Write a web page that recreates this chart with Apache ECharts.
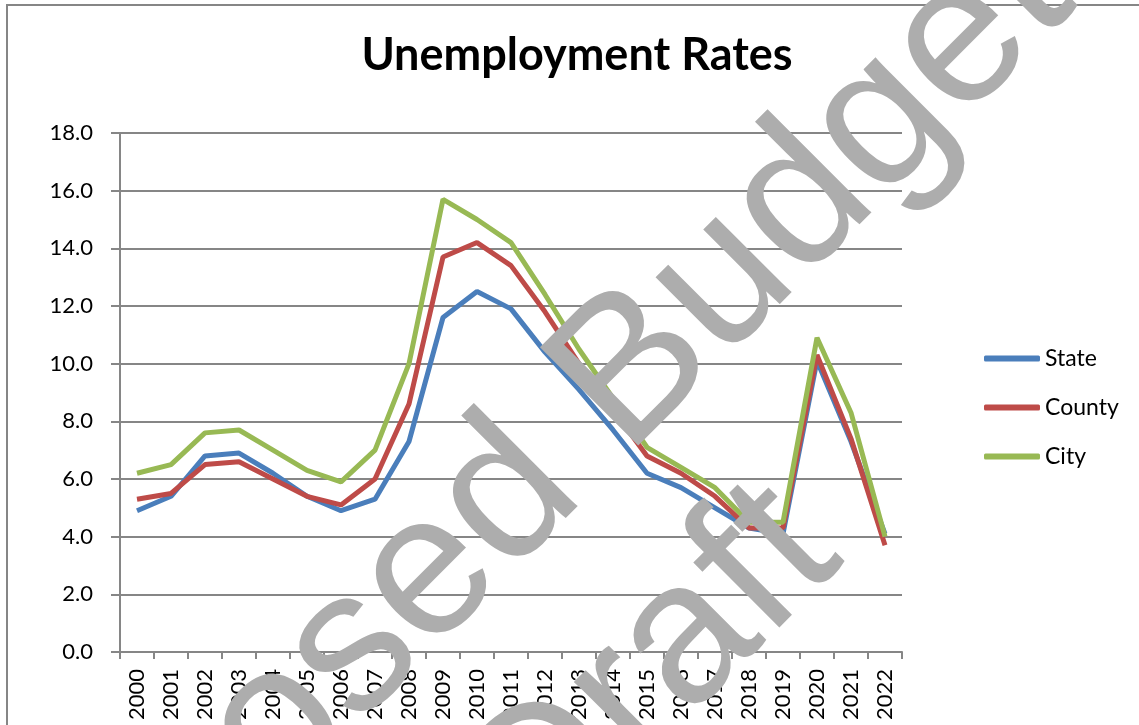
<!DOCTYPE html>
<html>
<head>
<meta charset="utf-8">
<title>Unemployment Rates</title>
<script src="https://cdn.jsdelivr.net/npm/echarts@6/dist/echarts.min.js"></script>
<style>
  html, body { margin: 0; padding: 0; background: #fff; }
  #chart { width: 1139px; height: 725px; }
</style>
</head>
<body>
<div id="chart"></div>
<script>
// values
const years = ['2000', '2001', '2002', '2003', '2004', '2005', '2006', '2007', '2008', '2009', '2010', '2011',
  '2012', '2013', '2014', '2015', '2016', '2017', '2018', '2019', '2020', '2021', '2022']
const stateRates = [4.9, 5.4, 6.8, 6.9, 6.2, 5.4, 4.9, 5.3, 7.3, 11.6, 12.5, 11.9,
  10.4, 9.1, 7.7, 6.2, 5.7, 5.0, 4.3, 4.1, 10.1, 7.3, 4.1]
const countyRates = [5.3, 5.5, 6.5, 6.6, 6.0, 5.4, 5.1, 6.0, 8.6, 13.7, 14.2, 13.4,
  11.8, 10.0, 8.4, 6.8, 6.2, 5.4, 4.3, 4.3, 10.3, 7.4, 3.7]
const cityRates = [6.2, 6.5, 7.6, 7.7, 7.0, 6.3, 5.9, 7.0, 10.0, 15.7, 15.0, 14.2,
  12.4, 10.5, 8.8, 7.1, 6.4, 5.7, 4.5, 4.5, 10.9, 8.3, 4.0]
const seriesNames = ['State', 'County', 'City']

const gray = '#868686'
const font = 'Lato'
const markFont = '202px "Liberation Sans"'

let myChart = echarts.init(document.getElementById('chart'))
myChart.setOption({
  animation: false,
  color: ['#4A7EBB', '#BE4B48', '#98B954'],
  title: {
    text: 'Unemployment Rates',
    left: 572,
    top: 28,
    textAlign: 'center',
    textStyle: {
      fontFamily: font,
      fontWeight: 'bold',
      fontSize: 45,
      color: '#000',
    },
  },
  legend: {
    orient: 'vertical',
    left: 979,
    top: 342,
    itemGap: 26,
    itemWidth: 56,
    itemHeight: 6,
    icon: 'roundRect',
    data: seriesNames,
    textStyle: {
      fontFamily: font,
      fontSize: 23,
      color: '#000',
    },
  },
  grid: {
    left: 120,
    right: 237,
    top: 133,
    bottom: 73,
  },
  xAxis: {
    type: 'category',
    data: years,
    boundaryGap: true,
    axisLine: { lineStyle: { color: gray, width: 2 } },
    axisTick: { show: true, length: 7, interval: 0, lineStyle: { color: gray, width: 2 } },
    axisLabel: {
      interval: 0,
      rotate: 90,
      margin: 17,
      fontFamily: font,
      fontSize: 22,
      color: '#000',
    },
    splitLine: { show: false },
  },
  yAxis: {
    type: 'value',
    min: 0,
    max: 18,
    interval: 2,
    axisLine: { show: true, lineStyle: { color: gray, width: 2 } },
    axisTick: { show: true, length: 9, lineStyle: { color: gray, width: 2 } },
    axisLabel: {
      margin: 27,
      fontFamily: font,
      fontSize: 22,
      color: '#000',
      formatter: (v) => v.toFixed(1),
    },
    splitLine: { lineStyle: { color: gray, width: 2 } },
  },
  series: [
    { name: 'State', type: 'line', data: stateRates, symbol: 'none', lineStyle: { width: 5 } },
    { name: 'County', type: 'line', data: countyRates, symbol: 'none', lineStyle: { width: 5 } },
    { name: 'City', type: 'line', data: cityRates, symbol: 'none', lineStyle: { width: 5 } },
  ],
  graphic: [
    {
      type: 'rect',
      z: 90,
      shape: { x: 7, y: 5, width: 1200, height: 800 },
      style: { fill: 'none', stroke: gray, lineWidth: 2 },
    },
    // watermark
    {
      type: 'text',
      z: 100,
      x: 488,
      y: 517,
      rotation: Math.PI / 4,
      style: {
        text: 'Proposed Budget',
        x: 0,
        y: 0,
        align: 'center',
        verticalAlign: 'middle',
        font: markFont,
        fill: '#ADADAD',
      },
    },
    {
      type: 'text',
      z: 100,
      x: 652,
      y: 676,
      rotation: Math.PI / 4,
      style: {
        text: 'Draft',
        x: 0,
        y: 0,
        align: 'center',
        verticalAlign: 'middle',
        font: markFont,
        fill: '#ADADAD',
      },
    },
  ],
})
</script>
</body>
</html>
